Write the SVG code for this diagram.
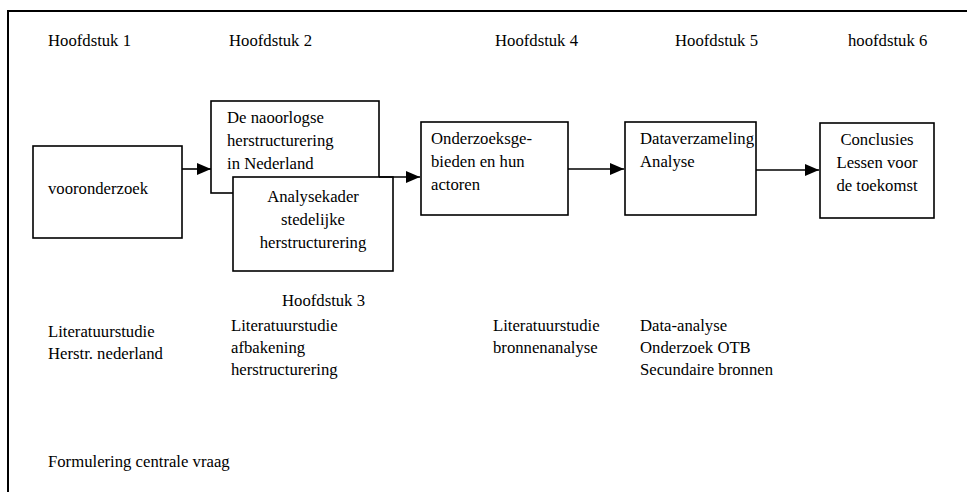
<svg xmlns="http://www.w3.org/2000/svg" width="967" height="492" viewBox="0 0 967 492" font-family="'Liberation Serif', 'DejaVu Serif', serif">
  <style>
    text { font-family: 'Liberation Serif', 'Tinos', 'DejaVu Serif', serif; font-size: 16.7px; fill: #000; }
    .box { fill: #fff; stroke: #000; stroke-width: 1.6; }
    .link { fill: none; stroke: #000; stroke-width: 1.6; }
    .frame { fill: none; stroke: #000; stroke-width: 2; }
    .mid { text-anchor: middle; }
  </style>
  <defs>
    <marker id="arrow" viewBox="0 0 14 12" refX="14" refY="6" markerWidth="14" markerHeight="12" markerUnits="userSpaceOnUse" orient="auto">
      <path d="M0,0 L14,6 L0,12 Z" fill="#000"/>
    </marker>
  </defs>
  <rect width="967" height="492" fill="#fff"/>

  <!-- frame (open to the right and bottom) -->
  <path class="frame" d="M8,492 V11 H967"/>

  <!-- chapter headings -->
  <g id="headings">
    <text x="48" y="46">Hoofdstuk 1</text>
    <text x="229" y="46">Hoofdstuk 2</text>
    <text x="495" y="46">Hoofdstuk 4</text>
    <text x="675" y="46">Hoofdstuk 5</text>
    <text x="848" y="46">hoofdstuk 6</text>
    <text x="282" y="306">Hoofdstuk 3</text>
  </g>

  <g id="n1">
    <rect class="box" x="33" y="146" width="149" height="92"/>
    <text x="48" y="194">vooronderzoek</text>
  </g>

  <g id="n2">
    <rect class="box" x="211" y="101" width="168" height="92"/>
    <text x="227" y="123">De naoorlogse</text>
    <text x="227" y="146">herstructurering</text>
    <text x="227" y="169">in Nederland</text>
  </g>

  <g id="n3">
    <rect class="box" x="233" y="177" width="160" height="94"/>
    <text class="mid" x="313" y="202">Analysekader</text>
    <text class="mid" x="313" y="225">stedelijke</text>
    <text class="mid" x="313" y="248">herstructurering</text>
  </g>

  <g id="n4">
    <rect class="box" x="421" y="122" width="147" height="93"/>
    <text x="431" y="144">Onderzoeksge-</text>
    <text x="431" y="167">bieden en hun</text>
    <text x="431" y="190">actoren</text>
  </g>

  <g id="n5">
    <rect class="box" x="625" y="122" width="131" height="93"/>
    <text x="640" y="144">Dataverzameling</text>
    <text x="640" y="167">Analyse</text>
  </g>

  <g id="n6">
    <rect class="box" x="820" y="123" width="114" height="95"/>
    <text class="mid" x="877" y="145">Conclusies</text>
    <text class="mid" x="877" y="168">Lessen voor</text>
    <text class="mid" x="877" y="191">de toekomst</text>
  </g>

  <!-- connectors -->
  <g id="connectors">
    <line class="link" x1="182" y1="169" x2="211" y2="169" marker-end="url(#arrow)"/>
    <line class="link" x1="379" y1="177" x2="420" y2="177" marker-end="url(#arrow)"/>
    <line class="link" x1="568" y1="169" x2="624" y2="169" marker-end="url(#arrow)"/>
    <line class="link" x1="756" y1="170" x2="819" y2="170" marker-end="url(#arrow)"/>
  </g>

  <!-- notes under the chapters -->
  <g id="notes">
    <text x="48" y="337">Literatuurstudie</text>
    <text x="48" y="359">Herstr. nederland</text>
    <text x="231" y="331">Literatuurstudie</text>
    <text x="231" y="353">afbakening</text>
    <text x="231" y="375">herstructurering</text>
    <text x="493" y="331">Literatuurstudie</text>
    <text x="493" y="353">bronnenanalyse</text>
    <text x="640" y="331">Data-analyse</text>
    <text x="640" y="353">Onderzoek OTB</text>
    <text x="640" y="375">Secundaire bronnen</text>
    <text x="48" y="467">Formulering centrale vraag</text>
  </g>
</svg>
